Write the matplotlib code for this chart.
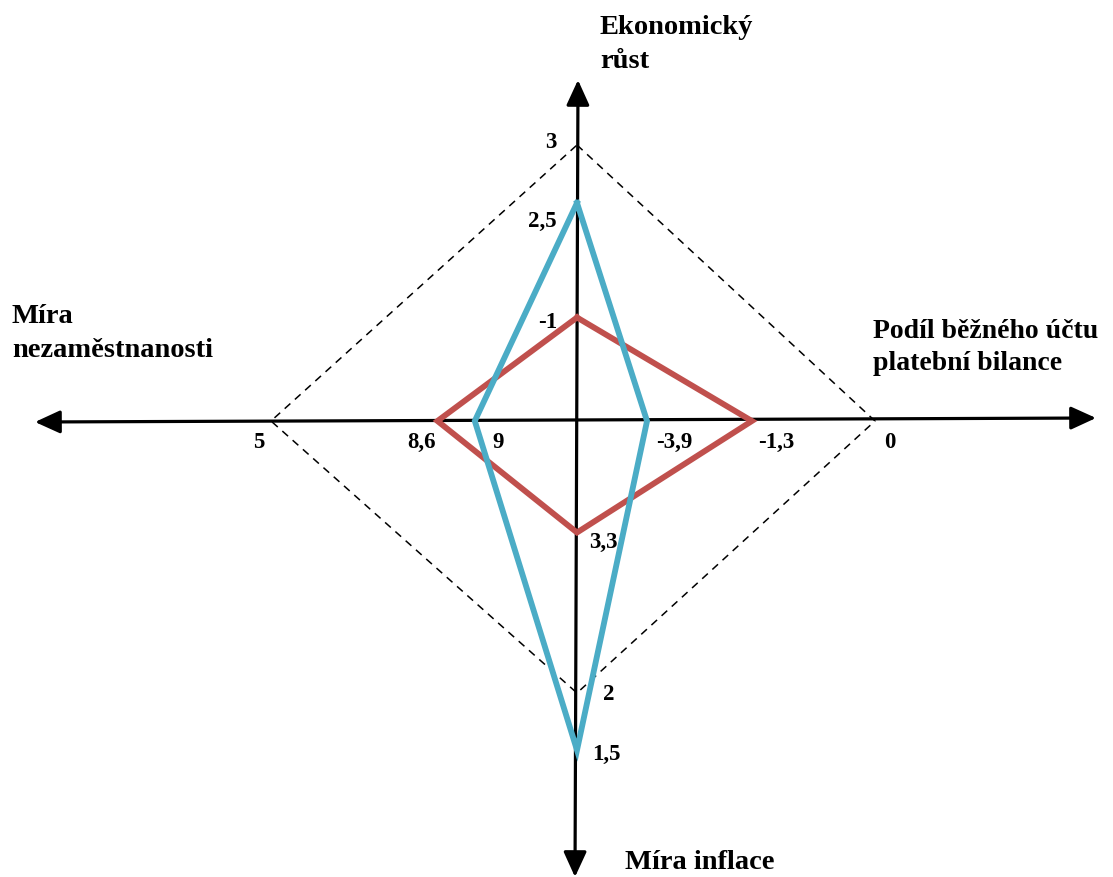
import numpy as np
import matplotlib.pyplot as plt

plt.rcParams['font.family'] = ['Liberation Serif', 'DejaVu Serif']

# osy magického čtyřúhelníku: nahoru, doprava, dolů, doleva
osy = ['Ekonomický\nrůst', 'Podíl běžného účtu\nplatební bilance', 'Míra inflace', 'Míra\nnezaměstnanosti']

# hodnoty na hranách čtyřúhelníku (ideál)
ideal = [3, 0, 2, 5]
# dvě období
rada_cervena = [-1, -1.3, 3.3, 8.6]
rada_modra = [2.5, -3.9, 1.5, 9]

# měřítka jednotlivých os (hodnota -> podíl vzdálenosti k hraně čtyřúhelníku)
meritko_hodnoty = [[-1, 2.5, 3], [-3.9, -1.3, 0], [1.5, 2, 3.3], [5, 8.6, 9]]
meritko_podil = [[0.375, 0.79, 1.0], [0.235, 0.587, 1.0], [1.21, 1.0, 0.41], [1.0, 0.456, 0.334]]

# rozvržení v pixelech
stred = (577, 421)
polomery = [276, 298, 272, 306]
smery = [(0, -1), (1, 0), (0, 1), (-1, 0)]


def bod(i, hodnota):
    h = meritko_hodnoty[i]
    p = meritko_podil[i]
    order = np.argsort(h)
    podil = np.interp(hodnota, np.array(h)[order], np.array(p)[order])
    dx, dy = smery[i]
    return stred[0] + dx * podil * polomery[i], stred[1] + dy * podil * polomery[i]


def polygon(rada):
    pts = [bod(i, v) for i, v in enumerate(rada)]
    pts.append(pts[0])
    return [p[0] for p in pts], [p[1] for p in pts]


fig = plt.figure(figsize=(11.13, 8.77), dpi=100)
ax = fig.add_axes([0, 0, 1, 1])
ax.set_xlim(0, 1113)
ax.set_ylim(877, 0)
ax.axis('off')

# osy se šipkami
sipka = dict(arrowstyle='<|-|>,head_length=0.7,head_width=0.32', lw=2.3, color='black',
             mutation_scale=22, shrinkA=0, shrinkB=0)
ax.annotate('', xy=(1096, 418), xytext=(35, 422), arrowprops=sipka)
ax.annotate('', xy=(578, 80), xytext=(575, 877), arrowprops=sipka)

# čtyřúhelník
x, y = polygon(ideal)
ax.plot(x, y, color='black', lw=1.1, ls=(0, (5, 4)), zorder=2)

x, y = polygon(rada_cervena)
ax.plot(x, y, color='#C0504D', lw=4.2, solid_joinstyle='miter', zorder=4)

x, y = polygon(rada_modra)
ax.plot(x, y, color='#4BACC6', lw=4.2, solid_joinstyle='miter', zorder=5)

# popisky hodnot
pozice_popisku = {
    '3': (551, 142), '2,5': (542, 221), '-1': (548, 322),
    '5': (259, 442), '8,6': (422, 442), '9': (498, 442),
    '-3,9': (674, 442), '-1,3': (776, 442), '0': (890, 442),
    '3,3': (603, 542), '2': (609, 695), '1,5': (606, 754),
}
for txt, (px, py) in pozice_popisku.items():
    ax.text(px, py, txt, ha='center', va='center', fontsize=16.5, fontweight='bold', zorder=3)

# názvy os
ax.text(600, 15, osy[0], ha='left', va='top', fontsize=20.5, fontweight='bold', linespacing=1.5)
ax.text(873, 319, osy[1], ha='left', va='top', fontsize=20, fontweight='bold', linespacing=1.35)
ax.text(625, 850, osy[2], ha='left', va='top', fontsize=20.5, fontweight='bold')
ax.text(12, 304, osy[3], ha='left', va='top', fontsize=20.5, fontweight='bold', linespacing=1.45)

plt.savefig('out.png', dpi=100)
